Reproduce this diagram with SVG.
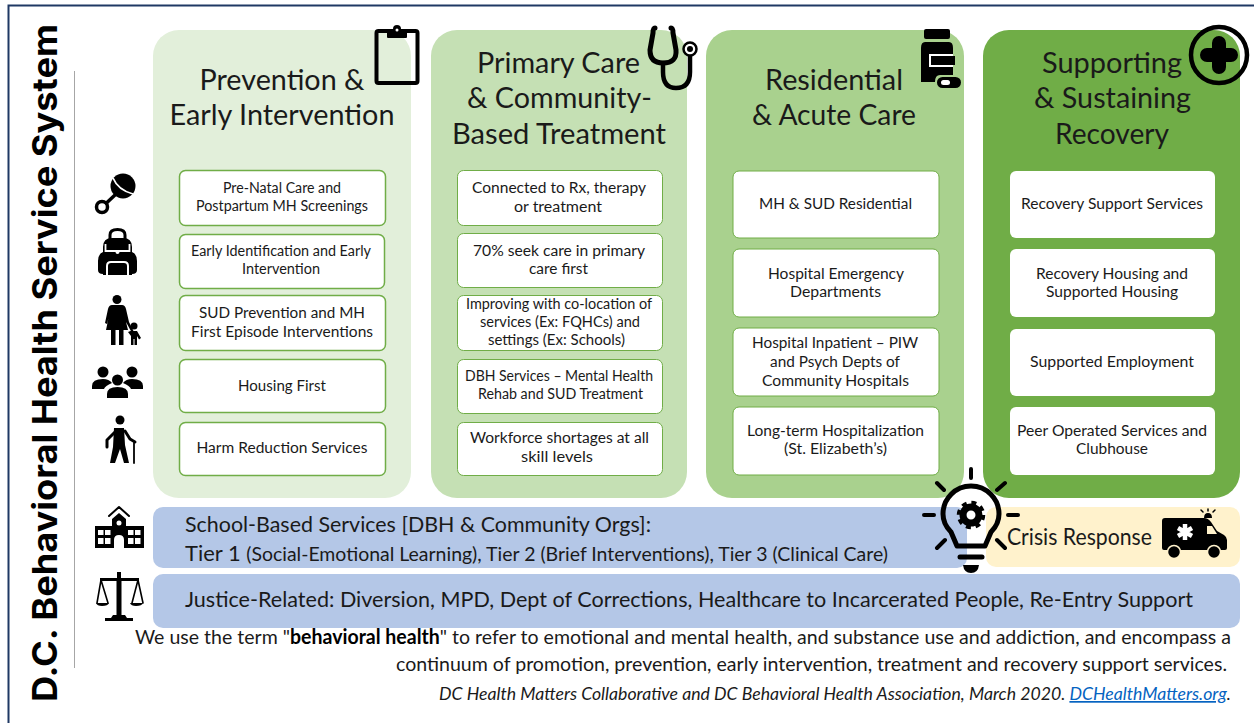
<svg xmlns="http://www.w3.org/2000/svg" width="1254" height="723" viewBox="0 0 1254 723">
<style>
text{font-family:"Lato","Open Sans","Liberation Sans",sans-serif;fill:#1a1a1a;text-anchor:middle}
.h{font-size:29px}
.b{font-size:15.500px}
.n{font-size:14.500px}
.bar{font-size:22px;text-anchor:start}
.box1{fill:#fff;stroke:#70ad47;stroke-width:1.5}
.box2{fill:#fff;stroke:#70ad47;stroke-width:1}
.box3{fill:#fff}
.i{fill:#000}
.s{fill:none;stroke:#000;stroke-linecap:round;stroke-linejoin:round}
</style>
<rect width="1254" height="723" fill="#fff"/>
<path d="M8.500 723V5.500H1254" fill="none" stroke="#1f3864" stroke-width="2"/>
<g id="sidebar">
<text transform="translate(57 702) rotate(-90)" x="0" y="0" style="text-anchor:start;font-family:Inter,'DejaVu Sans',sans-serif;font-size:34px;font-weight:700;fill:#000" textLength="678" lengthAdjust="spacingAndGlyphs">D.C. Behavioral Health Service System</text>
<path d="M74.500 71V668" stroke="#a6a6a6" stroke-width="1"/>
</g>
<g id="col-prevention">
<rect x="153" y="30" width="258" height="468" rx="26" fill="#e2efda"/>
<text class="h" x="282" y="90" textLength="165" lengthAdjust="spacingAndGlyphs">Prevention &amp;</text>
<text class="h" x="282" y="125" textLength="225" lengthAdjust="spacingAndGlyphs">Early Intervention</text>
<rect class="box1" x="179.500" y="170.500" width="206" height="55" rx="6"/>
<text class="b" x="282" y="193" textLength="118" lengthAdjust="spacingAndGlyphs">Pre-Natal Care and</text>
<text class="b" x="282" y="211" textLength="172" lengthAdjust="spacingAndGlyphs">Postpartum MH Screenings</text>
<rect class="box1" x="179.500" y="234.500" width="205" height="54" rx="6"/>
<text class="b" x="281" y="256" textLength="180" lengthAdjust="spacingAndGlyphs">Early Identification and Early</text>
<text class="b" x="281" y="274" textLength="78" lengthAdjust="spacingAndGlyphs">Intervention</text>
<rect class="box1" x="179.500" y="295.500" width="206" height="55" rx="6"/>
<text class="b" x="282" y="318" textLength="166" lengthAdjust="spacingAndGlyphs">SUD Prevention and MH</text>
<text class="b" x="282" y="337" textLength="182" lengthAdjust="spacingAndGlyphs">First Episode Interventions</text>
<rect class="box1" x="179.500" y="359.500" width="206" height="53" rx="6"/>
<text class="b" x="282" y="391" textLength="88" lengthAdjust="spacingAndGlyphs">Housing First</text>
<rect class="box1" x="179.500" y="422.500" width="206" height="53" rx="6"/>
<text class="b" x="282" y="453" textLength="171" lengthAdjust="spacingAndGlyphs">Harm Reduction Services</text>
</g>
<g id="col-primary">
<rect x="431" y="30" width="256" height="468" rx="26" fill="#c5e0b4"/>
<text class="h" x="558.500" y="73" textLength="163" lengthAdjust="spacingAndGlyphs">Primary Care</text>
<text class="h" x="559.500" y="108" textLength="185" lengthAdjust="spacingAndGlyphs">&amp; Community-</text>
<text class="h" x="559" y="144" textLength="214" lengthAdjust="spacingAndGlyphs">Based Treatment</text>
<rect class="box2" x="457.500" y="170.500" width="205" height="55" rx="6"/>
<text class="b" x="559" y="193" textLength="174" lengthAdjust="spacingAndGlyphs">Connected to Rx, therapy</text>
<text class="b" x="558" y="212" textLength="88" lengthAdjust="spacingAndGlyphs">or treatment</text>
<rect class="box2" x="457.500" y="233.500" width="205" height="54" rx="6"/>
<text class="b" x="559" y="256" textLength="172" lengthAdjust="spacingAndGlyphs">70% seek care in primary</text>
<text class="b" x="558.500" y="274" textLength="59" lengthAdjust="spacingAndGlyphs">care first</text>
<rect class="box2" x="457.500" y="295.500" width="205" height="55" rx="6"/>
<text class="n" x="559" y="309" textLength="186" lengthAdjust="spacingAndGlyphs">Improving with co-location of</text>
<text class="n" x="560" y="327" textLength="160" lengthAdjust="spacingAndGlyphs">services (Ex: FQHCs) and</text>
<text class="n" x="556.500" y="345" textLength="137" lengthAdjust="spacingAndGlyphs">settings (Ex: Schools)</text>
<rect class="box2" x="457.500" y="359.500" width="205" height="54" rx="6"/>
<text class="n" x="559" y="381" textLength="188" lengthAdjust="spacingAndGlyphs">DBH Services – Mental Health</text>
<text class="n" x="560.500" y="399" textLength="165" lengthAdjust="spacingAndGlyphs">Rehab and SUD Treatment</text>
<rect class="box2" x="457.500" y="422.500" width="205" height="53" rx="6"/>
<text class="b" x="559.500" y="443" textLength="179" lengthAdjust="spacingAndGlyphs">Workforce shortages at all</text>
<text class="b" x="557" y="462" textLength="72" lengthAdjust="spacingAndGlyphs">skill levels</text>
</g>
<g id="col-residential">
<rect x="706" y="30" width="258" height="468" rx="26" fill="#a9d18e"/>
<text class="h" x="834" y="90" textLength="138" lengthAdjust="spacingAndGlyphs">Residential</text>
<text class="h" x="834" y="125" textLength="164" lengthAdjust="spacingAndGlyphs">&amp; Acute Care</text>
<rect class="box2" x="733" y="171" width="206" height="67" rx="6"/>
<text class="b" x="835.500" y="209" textLength="153" lengthAdjust="spacingAndGlyphs">MH &amp; SUD Residential</text>
<rect class="box2" x="733" y="249" width="206" height="68" rx="6"/>
<text class="b" x="836" y="279" textLength="136" lengthAdjust="spacingAndGlyphs">Hospital Emergency</text>
<text class="b" x="835.500" y="297" textLength="91" lengthAdjust="spacingAndGlyphs">Departments</text>
<rect class="box2" x="733" y="328" width="206" height="68" rx="6"/>
<text class="b" x="835" y="348" textLength="166" lengthAdjust="spacingAndGlyphs">Hospital Inpatient – PIW</text>
<text class="b" x="835" y="367" textLength="130" lengthAdjust="spacingAndGlyphs">and Psych Depts of</text>
<text class="b" x="835.500" y="386" textLength="147" lengthAdjust="spacingAndGlyphs">Community Hospitals</text>
<rect class="box2" x="733" y="407" width="206" height="68" rx="6"/>
<text class="b" x="835.500" y="436" textLength="177" lengthAdjust="spacingAndGlyphs">Long-term Hospitalization</text>
<text class="b" x="835.500" y="454" textLength="103" lengthAdjust="spacingAndGlyphs">(St. Elizabeth’s)</text>
</g>
<g id="col-recovery">
<rect x="983" y="30" width="257" height="468" rx="26" fill="#70ad47"/>
<text class="h" x="1112" y="73" textLength="140" lengthAdjust="spacingAndGlyphs">Supporting</text>
<text class="h" x="1112.500" y="108" textLength="157" lengthAdjust="spacingAndGlyphs">&amp; Sustaining</text>
<text class="h" x="1112" y="144" textLength="114" lengthAdjust="spacingAndGlyphs">Recovery</text>
<rect class="box3" x="1010" y="171" width="205" height="67" rx="6"/>
<text class="b" x="1112" y="209" textLength="182" lengthAdjust="spacingAndGlyphs">Recovery Support Services</text>
<rect class="box3" x="1010" y="249" width="205" height="68" rx="6"/>
<text class="b" x="1112" y="279" textLength="152" lengthAdjust="spacingAndGlyphs">Recovery Housing and</text>
<text class="b" x="1112" y="297" textLength="132" lengthAdjust="spacingAndGlyphs">Supported Housing</text>
<rect class="box3" x="1010" y="329" width="205" height="67" rx="6"/>
<text class="b" x="1112" y="367" textLength="164" lengthAdjust="spacingAndGlyphs">Supported Employment</text>
<rect class="box3" x="1010" y="407" width="205" height="68" rx="6"/>
<text class="b" x="1112" y="436" textLength="190" lengthAdjust="spacingAndGlyphs">Peer Operated Services and</text>
<text class="b" x="1112" y="454" textLength="72" lengthAdjust="spacingAndGlyphs">Clubhouse</text>
</g>
<g id="school-based">
<rect x="153" y="507" width="814" height="61" rx="10" fill="#b4c7e7"/>
<text class="bar" x="185" y="532" textLength="466" lengthAdjust="spacingAndGlyphs">School-Based Services [DBH &amp; Community Orgs]:</text>
<text class="bar" x="185" y="561" textLength="703" lengthAdjust="spacingAndGlyphs">Tier 1 <tspan font-size="19.500">(Social-Emotional Learning), Tier 2 (Brief Interventions), Tier 3 (Clinical Care)</tspan></text>
</g>
<g id="crisis-response">
<rect x="986" y="507" width="254" height="60" rx="10" fill="#fff2cc"/>
<text x="1007" y="545" style="text-anchor:start;font-size:23px" textLength="145" lengthAdjust="spacingAndGlyphs">Crisis Response</text>
</g>
<g id="justice">
<rect x="153" y="574" width="1087" height="54" rx="10" fill="#b4c7e7"/>
<text class="bar" x="185" y="607" textLength="1008" lengthAdjust="spacingAndGlyphs">Justice-Related: Diversion, MPD, Dept of Corrections, Healthcare to Incarcerated People, Re-Entry Support</text>
</g>
<g id="definition">
<text x="135" y="644" style="text-anchor:start;font-size:20px" textLength="1096" lengthAdjust="spacingAndGlyphs">We use the term "<tspan font-weight="700" fill="#000">behavioral health</tspan>" to refer to emotional and mental health, and substance use and addiction, and encompass a</text>
<text x="396" y="671" style="text-anchor:start;font-size:20px" textLength="831" lengthAdjust="spacingAndGlyphs">continuum of promotion, prevention, early intervention, treatment and recovery support services.</text>
<text x="439" y="700" style="text-anchor:start;font-size:17px;font-style:italic" textLength="792" lengthAdjust="spacingAndGlyphs">DC Health Matters Collaborative and DC Behavioral Health Association, March 2020. <tspan fill="#0563c1" text-decoration="underline">DCHealthMatters.org</tspan>.</text>
</g>
<g id="icon-rattle">
<circle class="s" cx="102" cy="207" r="5.500" stroke-width="3.500"/>
<path class="s" d="M106.500 203L116 194" stroke-width="3.500"/>
<circle class="i" cx="123" cy="186" r="12.500"/>
<path d="M113 178Q118 190 133 194" fill="none" stroke="#fff" stroke-width="1.800"/>
</g>
<g id="icon-backpack">
<path class="s" d="M110 239V235Q110 229.500 117.500 229.500Q125 229.500 125 235V239" stroke-width="3"/>
<path class="i" d="M103 247Q103 238 112 238H123Q132 238 132 247V252Q137 254 137 261V270Q137 274 132 274V275H103V274Q98 274 98 270V261Q98 254 103 252Z"/>
<path d="M105.500 244V251H129.500V244" fill="none" stroke="#fff" stroke-width="1.800"/>
<circle cx="117.500" cy="252" r="2" fill="#fff"/>
<path d="M107 275V266Q107 262 111 262H124Q128 262 128 266V275" fill="none" stroke="#fff" stroke-width="2"/>
</g>
<g id="icon-parent-child">
<circle class="i" cx="117" cy="299.500" r="4.500"/>
<path class="i" d="M112 305H122Q125 305 126 309L129 322L134 332L132 333L126 322L128 330H123.500V345H119V330H115.500V345H111V330H106L108.500 318L107 324L105 323L108 309Q109 305 112 305Z"/>
<circle class="i" cx="134" cy="326" r="3.500"/>
<path class="i" d="M130.500 331H137L141 338L139 339.500L137 336V345H134.500V339H133.500V345H131V336L128 332Z"/>
</g>
<g id="icon-group">
<circle class="i" cx="103" cy="372" r="5.500"/><circle class="i" cx="132" cy="372" r="5.500"/><circle class="i" cx="117.500" cy="380" r="5.500"/>
<path class="i" d="M92 389V386Q92 379 103 379Q109 379 112 383Q105 386 104 389Z"/>
<path class="i" d="M143 389V386Q143 379 132 379Q126 379 123 383Q130 386 131 389Z"/>
<path class="i" d="M107 398V394Q107 387 117.500 387Q128 387 128 394V398Z"/>
</g>
<g id="icon-elder">
<circle class="i" cx="120" cy="420" r="4.500"/>
<path class="s" d="M116 431L107 440V447M125 431L130 439L135 442" stroke-width="3"/>
<path class="i" d="M114 428H124L125 445L129 463H124L120 449L115 463H110L113 447Z"/>
<path class="s" d="M134 443V463" stroke-width="1.800"/>
</g>
<g id="icon-school">
<path class="s" d="M109 516L119 507L129 516" stroke-width="2"/>
<path class="i" d="M112 519L119 513L126 519V526H144V548H95V526H112Z"/>
<g fill="#fff"><rect x="98" y="530" width="5.500" height="5"/><rect x="105" y="530" width="5.500" height="5"/><rect x="98" y="538" width="5.500" height="6"/><rect x="105" y="538" width="5.500" height="6"/><rect x="128" y="530" width="5.500" height="5"/><rect x="135" y="530" width="5.500" height="5"/><rect x="128" y="538" width="5.500" height="6"/><rect x="135" y="538" width="5.500" height="6"/><path d="M114 548V540Q114 535 119 535Q124 535 124 540V548Z"/><circle cx="119" cy="523" r="2.500"/></g>
</g>
<g id="icon-scales">
<path class="s" d="M101 580L97 603M101 580L108 603M138 580L132 603M138 580L143 603" stroke-width="1.600"/>
<path class="i" d="M100 578H139V581H100ZM117 572H121V578H117ZM116.500 581H121.500V615H116.500ZM113 615H125L127 618H111ZM105 618H133V621H105Z"/>
<path class="i" d="M96 603H109Q108 606 102 606Q97 606 96 603ZM130 603H143Q142 606 136 606Q131 606 130 603Z"/>
</g>
<g id="icon-clipboard">
<rect x="376.500" y="31" width="41" height="52" rx="2" fill="none" stroke="#000" stroke-width="4"/>
<rect class="i" x="387" y="30" width="20" height="8" rx="1"/>
<circle class="i" cx="397" cy="29" r="4"/>
<circle cx="397" cy="30" r="1.500" fill="#fff"/>
</g>
<g id="icon-stethoscope">
<path class="s" d="M655 28Q653 28 653 33L650 50Q650 63 663 63Q677 63 676 50L673 33Q673 28 671 28" stroke-width="5"/>
<path class="s" d="M663 63V72Q663 88 676 88Q690 88 690 72V56" stroke-width="4.500"/>
<circle cx="690" cy="49" r="6.500" fill="#fff" stroke="#000" stroke-width="2.500"/>
<circle class="i" cx="690" cy="49" r="3"/>
</g>
<g id="icon-bottle">
<rect class="i" x="924" y="29" width="26" height="10" rx="2"/>
<path class="i" d="M925 42H949Q953 42 953 48V75H940Q935 75 935 82H921V48Q921 42 925 42Z"/>
<rect x="929" y="54" width="24" height="13" fill="#fff"/>
<rect class="i" x="931" y="56" width="24" height="9"/>
<rect x="937" y="77" width="24" height="11" rx="5.500" fill="#000"/>
<rect x="941" y="80" width="9" height="5" rx="2.500" fill="#fff"/>
</g>
<g id="icon-plus">
<circle cx="1219" cy="55" r="28" fill="none" stroke="#000" stroke-width="4.500"/>
<path class="s" d="M1219 43V67M1207 55H1231" stroke-width="14"/>
</g>
<g id="icon-bulb">
<path d="M943 507H1000V540L986 548H956L943 540Z" fill="none"/>
<path class="s" d="M957 546L951 532Q943 524 943 514A28 28 0 0 1 999 514Q999 524 991 532L985 546Z" stroke-width="5"/>
<path class="s" d="M960 557H982" stroke-width="5"/>
<path class="i" d="M963 565H979Q978 573 971 573Q964 573 963 565Z"/>
<path class="s" d="M971 469V478M937 483L944 490M1005 483L997 490M924 515H934M1008 515H1018M937 548L945 540M1005 548L997 540" stroke-width="4"/>
<circle cx="971" cy="515" r="8" fill="none" stroke="#000" stroke-width="7"/>
<circle cx="971" cy="515" r="12.500" fill="none" stroke="#000" stroke-width="3.500" stroke-dasharray="5 4.820"/>
</g>
<g id="icon-ambulance">
<path class="i" d="M1165 518H1204Q1208 518 1211 522L1217 531L1224 535Q1227 537 1227 540V548Q1227 550 1225 550H1164Q1162 550 1162 548V521Q1162 518 1165 518Z"/>
<path d="M1207 526H1212L1217 534H1207Z" fill="#fff2cc"/>
<circle class="i" cx="1174" cy="552" r="6.500" stroke="#fff2cc" stroke-width="1.500"/><circle class="i" cx="1214" cy="552" r="6.500" stroke="#fff2cc" stroke-width="1.500"/>
<path d="M1185 524V540M1178 528L1192 536M1192 528L1178 536" stroke="#fff" stroke-width="4.500"/>
<path class="i" d="M1204 518Q1204 513 1208 513Q1212 513 1212 518Z"/>
<path class="s" d="M1208 509V511M1201 510L1203 512M1215 510L1213 512" stroke-width="1.500"/>
</g>
</svg>
